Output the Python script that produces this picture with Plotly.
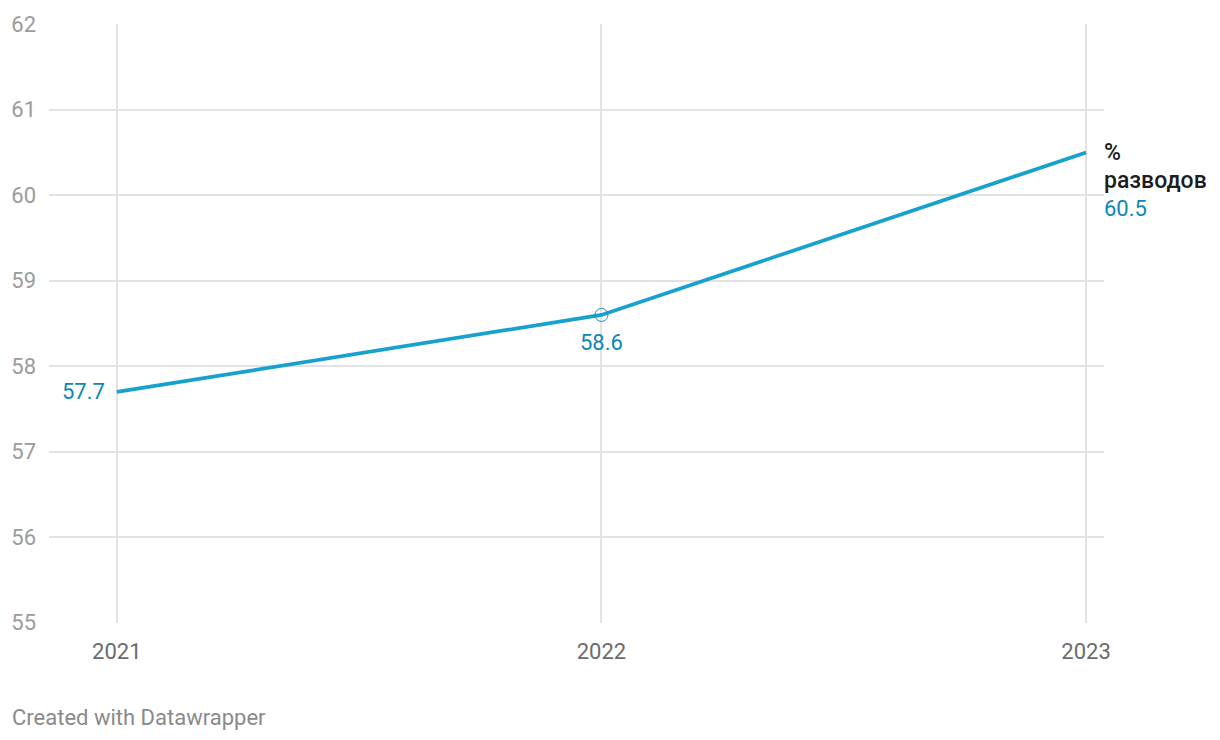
import plotly.graph_objects as go

years = [2021, 2022, 2023]
values = [57.7, 58.6, 60.5]
series_name = "% разводов"
y_ticks = [55, 56, 57, 58, 59, 60, 61, 62]
x_ticks = [2021, 2022, 2023]

LINE = "#18a1cd"
LABEL = "#0d87b3"

fig = go.Figure()
fig.add_trace(go.Scatter(
    x=years, y=values, mode="lines",
    line=dict(color=LINE, width=3.7),
    hoverinfo="skip", showlegend=False,
))
fig.add_trace(go.Scatter(
    x=[years[1]], y=[values[1]], mode="markers",
    marker=dict(symbol="circle-open", size=13, color="#2a8ab3", line=dict(width=1, color="#2a8ab3")),
    hoverinfo="skip", showlegend=False,
))

font = "Roboto, Arial, sans-serif"
fig.add_annotation(x=years[0], y=values[0], text=f"{values[0]}", showarrow=False,
                   xanchor="right", yanchor="middle", xshift=-10, yshift=0,
                   font=dict(family=font, size=22, color=LABEL))
fig.add_annotation(x=years[1], y=values[1], text=f"{values[1]}", showarrow=False,
                   xanchor="center", yanchor="middle", yshift=-28,
                   font=dict(family=font, size=22, color=LABEL))
fig.add_annotation(x=years[2], y=values[2], text="%", showarrow=False,
                   xanchor="left", yanchor="middle", xshift=16, yshift=0,
                   font=dict(family=font, size=23, color="#1d1d1d", weight=500))
fig.add_annotation(x=years[2], y=values[2], text="разводов", showarrow=False,
                   xanchor="left", yanchor="middle", xshift=16, yshift=-28,
                   font=dict(family=font, size=23, color="#1d1d1d", weight=500))
fig.add_annotation(x=years[2], y=values[2], text=f"{values[2]}", showarrow=False,
                   xanchor="left", yanchor="middle", xshift=16, yshift=-56,
                   font=dict(family=font, size=22, color=LABEL))

fig.add_annotation(xref="paper", yref="paper", x=0, y=0, xshift=-39, yshift=-94,
                   text="Created with Datawrapper", showarrow=False,
                   xanchor="left", yanchor="middle",
                   font=dict(family=font, size=22, color="#8a8a8a"))

fig.update_layout(
    width=1212, height=732,
    margin=dict(l=41, r=116, t=16, b=117, autoexpand=False),
    paper_bgcolor="white", plot_bgcolor="white",
    font=dict(family=font),
    xaxis=dict(range=[2020.86, 2023.037], tickvals=x_ticks, ticktext=[str(t) for t in x_ticks],
               showgrid=True, gridcolor="#e2e2e2", gridwidth=1.5, zeroline=False, showline=False,
               automargin=False,
               ticks="", tickfont=dict(family=font, size=22, color="#6b6b6b"), ticklabelstandoff=13),
    yaxis=dict(range=[54.997, 62.003], tickvals=y_ticks, showgrid=True, gridcolor="#e2e2e2", gridwidth=1.5,
               zeroline=False, showline=False, ticks="", automargin=False,
               tickfont=dict(family=font, size=22, color="#9b9b9b"), ticklabelstandoff=12),
)

fig.write_html("out.html")
